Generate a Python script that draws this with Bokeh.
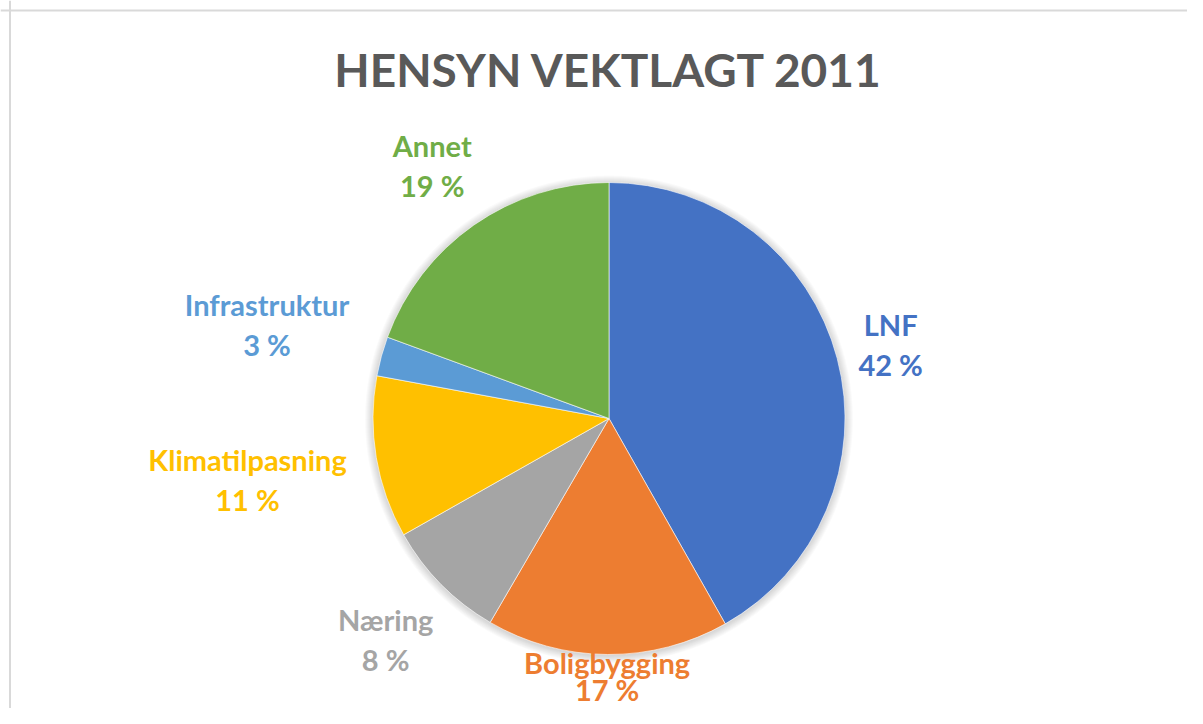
import math
from bokeh.plotting import figure
from bokeh.models import Range1d, ColumnDataSource, Span
from bokeh.core.properties import value
from bokeh.embed import file_html
from bokeh.resources import INLINE

# ---- data ----
categories = ["LNF", "Boligbygging", "Næring", "Klimatilpasning", "Infrastruktur", "Annet"]
shares = [41.8, 16.6, 8.4, 11.1, 2.7, 19.4]
colors = ["#4472C4", "#ED7D31", "#A5A5A5", "#FFC000", "#5B9BD5", "#70AD47"]
title_text = "HENSYN VEKTLAGT 2011"

W, H = 1187, 708
FONT = "Lato"
LABEL_PX = 29
CHAR_W = 14.5
LINE_GAP = 40

p = figure(width=W, height=H, x_range=Range1d(0, W), y_range=Range1d(0, H),
           output_backend="svg", toolbar_location=None, min_border=0,
           x_axis_type=None, y_axis_type=None)
p.grid.visible = False
p.outline_line_color = None
p.background_fill_color = "white"
p.border_fill_color = "white"

# chart-area border (top and left visible)
p.add_layout(Span(location=H - 10, dimension="width", line_color="#D9D9D9", line_width=2))
p.add_layout(Span(location=9.5, dimension="height", line_color="#D9D9D9", line_width=2))

cx, cy, R = 608.5, H - 418, 236

# soft shadow
for k in range(1, 9):
    p.circle(x=cx, y=cy - 1, radius=R + k, fill_color="black", fill_alpha=0.018,
             line_color=None)

total = sum(shares)
starts, ends, mids = [], [], []
acc = 0.0
for s in shares:
    f0 = acc / total
    acc += s
    f1 = acc / total
    starts.append(math.pi / 2 - 2 * math.pi * f0)
    ends.append(math.pi / 2 - 2 * math.pi * f1)
    mids.append(math.pi / 2 - 2 * math.pi * (f0 + f1) / 2)

src = ColumnDataSource(dict(start=starts, end=ends, color=colors))
p.wedge(x=cx, y=cy, radius=R, start_angle="start", end_angle="end", direction="clock",
        fill_color="color", line_color="white", line_width=0.6, source=src)

# labels placed outside along mid-angle
pct_texts = [f"{round(s / total * 100)} %" for s in shares]
lx, ly1, ly2 = [], [], []
pad, kx, ky = 16, 1.0, 1.1
for name, pt, a in zip(categories, pct_texts, mids):
    dx, dy = math.cos(a), math.sin(a)
    w = max(len(name), len(pt)) * CHAR_W
    h = 2 * LINE_GAP
    r = R + pad + kx * abs(dx) * w / 2 + ky * abs(dy) * h / 2
    x = cx + dx * r
    y = cy + dy * r
    lx.append(x)
    # first line stays clear of the pie, second line stays inside the canvas
    c1 = max(y + LINE_GAP / 2, 46)
    c2 = max(c1 - LINE_GAP, 19)
    ly1.append(c1)
    ly2.append(c2)

lsrc = ColumnDataSource(dict(x=lx, y1=ly1, y2=ly2, name=categories, pct=pct_texts, color=colors))
p.text(x="x", y="y1", text="name", text_color="color", text_align="center",
       text_baseline="middle", text_font=value(FONT), text_font_style="bold",
       text_font_size=f"{LABEL_PX}px", source=lsrc)
p.text(x="x", y="y2", text="pct", text_color="color", text_align="center",
       text_baseline="middle", text_font=value(FONT), text_font_style="bold",
       text_font_size=f"{LABEL_PX}px", source=lsrc)

# title
p.text(x=[cx], y=[H - 68.5], text=[title_text], text_color="#595959", text_align="center",
       text_baseline="middle", text_font=value(FONT), text_font_style="bold",
       text_font_size="46px")

open("out.html", "w").write(file_html(p, INLINE))
